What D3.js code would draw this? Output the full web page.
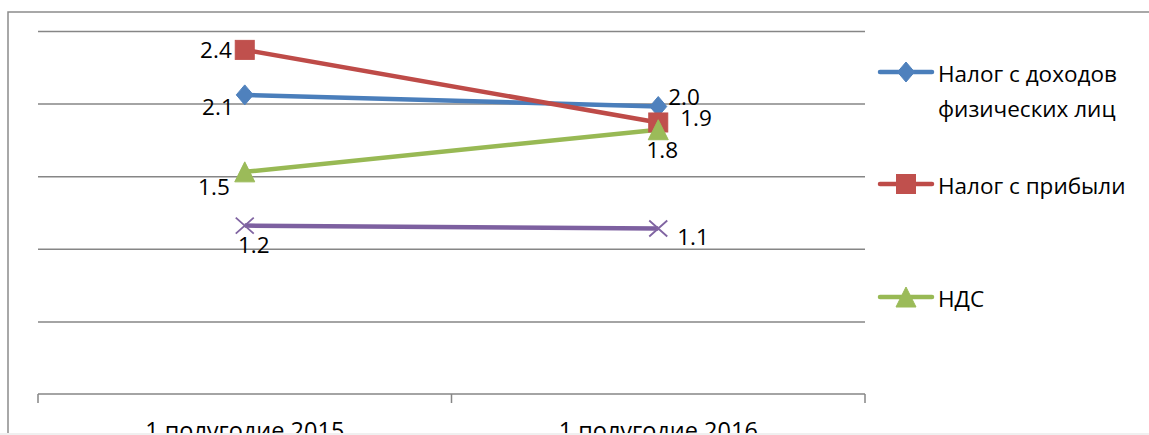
<!DOCTYPE html>
<html>
<head>
<meta charset="utf-8">
<script src="https://cdn.jsdelivr.net/npm/d3@7"></script>
<style>
  body { margin: 0; background: #fff; }
  svg { display: block; font-family: "Open Sans", sans-serif; }
</style>
</head>
<body>
<svg id="chart" width="1149" height="435"></svg>
<script>
// данные
var categories = ["1 полугодие 2015", "1 полугодие 2016"];
var ndflValues = [2.06, 1.98];
var profitValues = [2.37, 1.87];
var ndsValues = [1.53, 1.82];
var otherValues = [1.16, 1.14];
var gridValues = [0.5, 1.0, 1.5, 2.0, 2.5];

var series = [
  { name: "Налог с доходов физических лиц", lines: ["Налог с доходов", "физических лиц"], values: ndflValues, color: "#4A7EBB", fill: "#4F81BD", marker: "diamond", legend: true },
  { name: "Налог с прибыли", lines: ["Налог с прибыли"], values: profitValues, color: "#BE4B48", fill: "#C0504D", marker: "square", legend: true },
  { name: "НДС", lines: ["НДС"], values: ndsValues, color: "#98B954", fill: "#9BBB59", marker: "triangle", legend: true },
  { name: "", lines: [], values: otherValues, color: "#7D60A0", fill: "#8064A2", marker: "x", legend: false }
];

// смещения подписей (как в исходной диаграмме)
var labelOffsets = [
  [{ dx: -11, dy: 12, anchor: "end" }, { dx: 10, dy: -10, anchor: "start" }],
  [{ dx: -13, dy: 0, anchor: "end" }, { dx: 22, dy: -5, anchor: "start" }],
  [{ dx: -15, dy: 15, anchor: "end" }, { dx: 4, dy: 20, anchor: "middle" }],
  [{ dx: 9, dy: 19, anchor: "middle" }, { dx: 19, dy: 8, anchor: "start" }]
];

var svg = d3.select("#chart");

// рамка диаграммы
svg.append("path")
  .attr("d", "M8,440 L8,12 L1160,12")
  .style("fill", "none")
  .style("stroke", "#8c8c8c")
  .style("stroke-width", 1.5);

var x = d3.scaleBand().domain(categories).range([38, 865]).paddingInner(0).paddingOuter(0);
var y = d3.scaleLinear().domain([0, 2.5]).range([394, 31]);

// сетка
var grid = svg.append("g")
  .attr("transform", "translate(38,0)")
  .call(d3.axisLeft(y).tickValues(gridValues).tickSize(-(865 - 38)).tickFormat(""));
grid.select(".domain").remove();
grid.selectAll("line").style("stroke", "#868686").style("stroke-width", 1.5);

// ось X
var axisG = svg.append("g");
axisG.append("line")
  .attr("x1", x.range()[0]).attr("x2", x.range()[1])
  .attr("y1", y(0)).attr("y2", y(0))
  .style("stroke", "#868686").style("stroke-width", 1.5);
var tickPos = categories.map(function(c) { return x(c); }).concat([x.range()[1]]);
axisG.selectAll(".tick").data(tickPos).enter().append("line")
  .attr("x1", function(d) { return d; }).attr("x2", function(d) { return d; })
  .attr("y1", y(0)).attr("y2", y(0) + 9)
  .style("stroke", "#868686").style("stroke-width", 1.5);
axisG.selectAll(".cat").data(categories).enter().append("text")
  .attr("x", function(d) { return x(d) + x.bandwidth() / 2; })
  .attr("y", 439)
  .attr("text-anchor", "middle")
  .style("font-size", "23.5px")
  .style("fill", "#000")
  .text(function(d) { return d; });

function cx(i) { return x(categories[i]) + x.bandwidth() / 2; }

function drawMarker(g, type, px, py, s) {
  if (type === "diamond") {
    g.append("path")
      .attr("d", "M" + px + "," + (py - 10) + " L" + (px + 8.5) + "," + py + " L" + px + "," + (py + 10) + " L" + (px - 8.5) + "," + py + "Z")
      .style("fill", s.fill).style("stroke", s.fill);
  } else if (type === "square") {
    g.append("rect")
      .attr("x", px - 9.5).attr("y", py - 9.5).attr("width", 19).attr("height", 19)
      .style("fill", s.fill).style("stroke", s.fill);
  } else if (type === "triangle") {
    g.append("path")
      .attr("d", "M" + px + "," + (py - 10) + " L" + (px + 10) + "," + (py + 10) + " L" + (px - 10) + "," + (py + 10) + "Z")
      .style("fill", s.fill).style("stroke", s.fill);
  } else if (type === "x") {
    g.append("path")
      .attr("d", "M" + (px - 9) + "," + (py - 8) + " L" + (px + 9) + "," + (py + 8) + " M" + (px + 9) + "," + (py - 8) + " L" + (px - 9) + "," + (py + 8))
      .style("fill", "none").style("stroke", s.fill).style("stroke-width", 1.8);
  }
}

var line = d3.line()
  .x(function(d, i) { return cx(i); })
  .y(function(d) { return y(d); });

// линии рядов
series.forEach(function(s) {
  svg.append("path")
    .datum(s.values)
    .attr("d", line)
    .style("fill", "none")
    .style("stroke", s.color)
    .style("stroke-width", 4.5)
    .style("stroke-linejoin", "round");
});

// маркеры
series.forEach(function(s) {
  var g = svg.append("g");
  s.values.forEach(function(v, i) {
    drawMarker(g, s.marker, cx(i), y(v), s);
  });
});

// подписи данных
series.forEach(function(s, si) {
  s.values.forEach(function(v, i) {
    var o = labelOffsets[si][i];
    svg.append("text")
      .attr("x", cx(i) + o.dx)
      .attr("y", y(v) + o.dy)
      .attr("dy", "0.36em")
      .attr("text-anchor", o.anchor)
      .style("font-size", "22.5px")
      .style("fill", "#000")
      .text(d3.format(".1f")(v));
  });
});

// легенда
var legend = svg.append("g");
var legendY = [72, 184, 297];
series.filter(function(s) { return s.legend; }).forEach(function(s, i) {
  var ly = legendY[i];
  var g = legend.append("g");
  g.append("line")
    .attr("x1", 880).attr("x2", 932)
    .attr("y1", ly).attr("y2", ly)
    .style("stroke", s.color).style("stroke-width", 4.5).style("stroke-linecap", "round");
  drawMarker(g, s.marker, 906, ly, s);
  s.lines.forEach(function(t, k) {
    g.append("text")
      .attr("x", 938)
      .attr("y", ly + 2 + k * 35)
      .attr("dy", "0.36em")
      .style("font-size", "22.5px")
      .style("fill", "#000")
      .text(t);
  });
});

// нижняя полоса
svg.append("rect")
  .attr("x", 0).attr("y", 433).attr("width", 1149).attr("height", 2)
  .style("fill", "#f0f0f0");
</script>
</body>
</html>
